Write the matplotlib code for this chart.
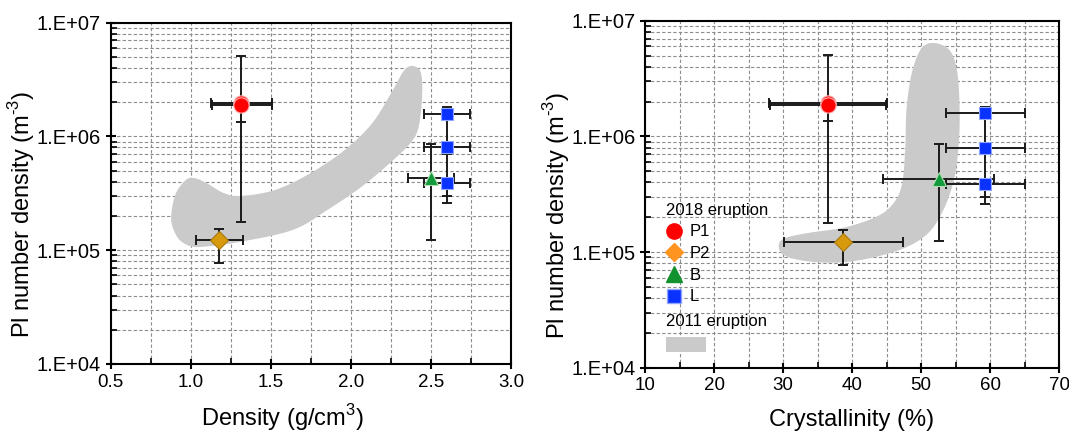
import numpy as np
import matplotlib
matplotlib.use("Agg")
import matplotlib.pyplot as plt
from matplotlib.lines import Line2D
from matplotlib.patches import Patch
from matplotlib.ticker import MultipleLocator, LogLocator, FuncFormatter, NullFormatter

plt.rcParams['font.family'] = ['Liberation Sans', 'DejaVu Sans']
plt.rcParams['mathtext.fontset'] = 'custom'
plt.rcParams['mathtext.rm'] = 'Liberation Sans'

# --- 2018 eruption samples: Pl number density (m^-3) ---
groups = ['P1', 'P1b', 'P2', 'B', 'L1', 'L2', 'L3']
nd = [1.95e6, 1.88e6, 1.22e5, 4.3e5, 1.58e6, 8.0e5, 3.9e5]
nd_lo = [1.77e5, 1.35e6, 7.8e4, 1.24e5, 7.0e5, 3.0e5, 2.6e5]
nd_hi = [5.1e6, 2.0e6, 1.54e5, 8.6e5, 1.8e6, 8.8e5, 4.3e5]

# bulk density (g/cm3)
dens = [1.315, 1.315, 1.178, 2.50, 2.60, 2.60, 2.60]
dens_lo = [1.126, 1.130, 1.031, 2.354, 2.456, 2.456, 2.456]
dens_hi = [1.509, 1.505, 1.324, 2.645, 2.746, 2.746, 2.746]

# crystallinity (%)
cryst = [36.5, 36.5, 38.75, 52.6, 59.3, 59.3, 59.3]
cryst_lo = [27.9, 28.1, 30.1, 44.5, 53.6, 53.6, 53.6]
cryst_hi = [45.1, 44.9, 47.4, 60.6, 65.0, 65.0, 65.0]

# --- 2011 eruption field outlines ---
field_dens_x = [0.879, 0.907, 0.971, 1.025, 1.10, 1.208, 1.315, 1.53, 1.746, 1.961,
                2.133, 2.262, 2.327, 2.38, 2.434, 2.445, 2.423, 2.37, 2.241, 2.068,
                1.853, 1.638, 1.315, 1.10, 1.003, 0.928, 0.885]
field_dens_y = [2.12e5, 3.17e5, 4.16e5, 4.3e5, 3.88e5, 3.17e5, 3.0e5, 3.4e5, 4.75e5, 7.6e5,
                1.31e6, 2.56e6, 3.72e6, 4.17e6, 3.72e6, 2.4e6, 1.22e6, 8.7e5, 5.8e5, 3.63e5,
                2.26e5, 1.51e5, 1.19e5, 1.08e5, 1.08e5, 1.24e5, 1.62e5]

field_cryst_x = [52.1, 54.3, 55.3, 55.6, 55.4, 54.8, 53.3, 51.1, 47.7, 42.8, 37.9, 33.0,
                 30.0, 29.4, 30.5, 33.9, 38.9, 43.3, 45.7, 47.2, 47.7, 47.9, 48.7, 50.1]
field_cryst_y = [6.4e6, 5.4e6, 3.39e6, 1.52e6, 7.8e5, 4.29e5, 2.35e5, 1.47e5, 1.09e5, 8.9e4,
                 8.1e4, 8.4e4, 9.5e4, 1.17e5, 1.33e5, 1.47e5, 1.63e5, 1.99e5, 2.51e5, 3.75e5,
                 7.8e5, 1.74e6, 3.62e6, 5.8e6]

styles = {
    'P1': dict(marker='o', ms=11, mfc='#ff0000', mec='#ffb0b0'),
    'P1b': dict(marker='o', ms=11, mfc='#ff0000', mec='#ffb0b0'),
    'P2': dict(marker='D', ms=9, mfc='#d69a0c', mec='#a87810'),
    'B': dict(marker='^', ms=10, mfc='#129a3c', mec='#b0e0b0'),
    'L1': dict(marker='s', ms=9, mfc='#0a32ff', mec='#8fa5ff'),
    'L2': dict(marker='s', ms=9, mfc='#0a32ff', mec='#8fa5ff'),
    'L3': dict(marker='s', ms=9, mfc='#0a32ff', mec='#8fa5ff'),
}


def smooth_outline(xs, ys, n=20):
    # closed Catmull-Rom curve through the outline points (y in log space)
    pts = np.column_stack([np.asarray(xs, float), np.log10(ys)])
    m = len(pts)
    out = []
    for i in range(m):
        p0, p1, p2, p3 = pts[i - 1], pts[i], pts[(i + 1) % m], pts[(i + 2) % m]
        for t in np.linspace(0, 1, n, endpoint=False):
            t2, t3 = t * t, t * t * t
            out.append(0.5 * ((2 * p1) + (-p0 + p2) * t
                              + (2 * p0 - 5 * p1 + 4 * p2 - p3) * t2
                              + (-p0 + 3 * p1 - 3 * p2 + p3) * t3))
    out = np.array(out)
    return out[:, 0], 10 ** out[:, 1]


def style_axes(ax, xlim, xmajor, xminor):
    ax.set_yscale('log')
    ax.set_ylim(1e4, 1e7)
    ax.set_xlim(*xlim)
    ax.xaxis.set_major_locator(MultipleLocator(xmajor))
    ax.xaxis.set_minor_locator(MultipleLocator(xminor))
    ax.yaxis.set_major_locator(LogLocator(base=10))
    ax.yaxis.set_minor_locator(LogLocator(base=10, subs=np.arange(2, 10)))
    ax.yaxis.set_major_formatter(FuncFormatter(lambda v, p: '1.E+%02d' % round(np.log10(v))))
    ax.yaxis.set_minor_formatter(NullFormatter())
    ax.set_axisbelow(True)
    ax.grid(True, which='both', color='#8c8c8c', linestyle=(0, (3, 2)), linewidth=0.8)
    ax.tick_params(which='major', direction='inout', length=7, width=1.5, labelsize=13.5,
                   top=False, right=False)
    ax.tick_params(axis='y', which='major', labelsize=14.5)
    ax.tick_params(which='minor', direction='in', length=4, width=1.2, top=False, right=False)
    for s in ax.spines.values():
        s.set_linewidth(1.5)
    ax.set_ylabel(r'Pl number density (m$^{\text{-3}}$)', fontsize=17)


def draw_points(ax, xv, xlo, xhi):
    for i, g in enumerate(groups):
        ax.errorbar(xv[i], nd[i],
                    xerr=[[xv[i] - xlo[i]], [xhi[i] - xv[i]]],
                    yerr=[[nd[i] - nd_lo[i]], [nd_hi[i] - nd[i]]],
                    fmt='none', ecolor='#1a1a1a', elinewidth=1.4, capsize=3.5,
                    capthick=1.4, zorder=3)
    for i, g in enumerate(groups):
        ax.plot(xv[i], nd[i], linestyle='none', mew=0.8, zorder=4, **styles[g])


fig = plt.figure(figsize=(10.69, 4.34), dpi=100)
ax1 = fig.add_axes([0.1036, 0.1613, 0.3745, 0.7864])
ax2 = fig.add_axes([0.6034, 0.1528, 0.3873, 0.7995])

# density panel
style_axes(ax1, (0.5, 3.0), 0.5, 0.25)
fx, fy = smooth_outline(field_dens_x, field_dens_y)
ax1.fill(fx, fy, color='#cacaca', lw=0, zorder=2)
draw_points(ax1, dens, dens_lo, dens_hi)
ax1.xaxis.set_major_formatter(FuncFormatter(lambda v, p: '%.1f' % v))
ax1.set_xlabel('Density (g/cm$^{3}$)', fontsize=17, va='top')
ax1.xaxis.set_label_coords(0.43, -0.112)
ax1.yaxis.set_label_coords(-0.184, 0.44)

# crystallinity panel
style_axes(ax2, (10, 70), 10, 5)
fx, fy = smooth_outline(field_cryst_x, field_cryst_y)
ax2.fill(fx, fy, color='#cacaca', lw=0, zorder=2)
draw_points(ax2, cryst, cryst_lo, cryst_hi)
ax2.set_xlabel('Crystallinity (%)', fontsize=17, va='top')
ax2.xaxis.set_label_coords(0.5, -0.118)
ax2.yaxis.set_label_coords(-0.176, 0.44)

# legend
handles = [
    Line2D([], [], ls='none', marker='o', ms=11, mfc='#ff0000', mec='#ff0000'),
    Line2D([], [], ls='none', marker='D', ms=9.5, mfc='#ff9420', mec='#ff9420'),
    Line2D([], [], ls='none', marker='^', ms=11, mfc='#12922f', mec='#12922f'),
    Line2D([], [], ls='none', marker='s', ms=10, mfc='#0a32ff', mec='#8fa5ff'),
]
leg1 = ax2.legend(handles, ['P1', 'P2', 'B', 'L'], title='2018 eruption',
                  loc='upper left', bbox_to_anchor=(0.042, 0.485), frameon=False,
                  fontsize=12, title_fontproperties={'size': 12}, alignment='left',
                  handlelength=1.0, handletextpad=0.45, labelspacing=0.4,
                  borderpad=0.2, borderaxespad=0)
ax2.add_artist(leg1)
ax2.legend([Patch(facecolor='#cacaca', edgecolor='none')], [''], title='2011 eruption',
           loc='upper left', bbox_to_anchor=(0.042, 0.165), frameon=False,
           fontsize=12, title_fontproperties={'size': 12}, alignment='left',
           handlelength=2.4, handleheight=1.0, handletextpad=0,
           borderpad=0.2, borderaxespad=0)

fig.savefig('out.png', dpi=100)
